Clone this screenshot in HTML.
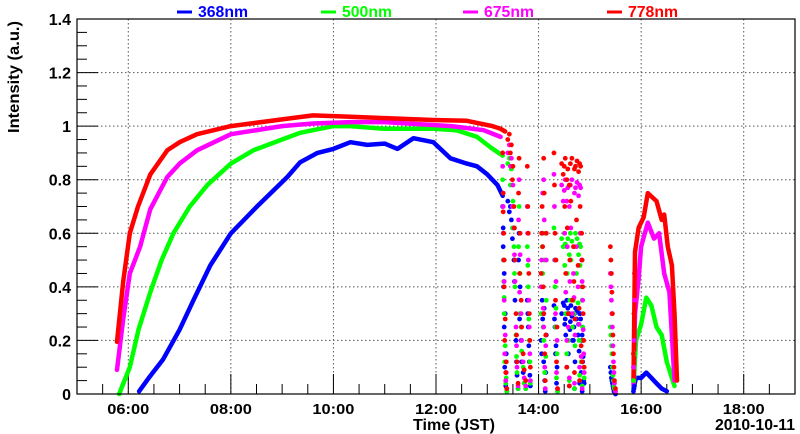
<!DOCTYPE html>
<html><head><meta charset="utf-8"><style>
body{margin:0;background:#fff}
svg{display:block;font-family:"Liberation Sans",sans-serif;font-weight:bold}
</style></head><body>
<svg id="c" width="800" height="434" viewBox="0 0 800 434"></svg>
<script>
// Smooth series (null = gap)
const blueT=[6.21,6.4,6.68,7.0,7.27,7.6,8.0,8.51,9.1,9.35,9.69,10.0,10.33,10.66,11.0,11.25,11.56,11.95,12.28,12.6,12.8,13.0,13.2,13.3,null,15.85,15.9,16.0,16.1,16.2,16.3,16.4,16.5];
const blueV=[0.01,0.06,0.13,0.24,0.35,0.48,0.60,0.70,0.81,0.865,0.90,0.915,0.94,0.93,0.935,0.915,0.955,0.94,0.88,0.86,0.85,0.82,0.78,0.74,null,0.02,0.06,0.06,0.08,0.06,0.04,0.02,0.01];
const greenT=[5.82,6.03,6.2,6.43,6.65,6.88,7.2,7.54,8.0,8.44,9.0,9.35,9.6,10.0,10.33,11.0,11.95,12.4,12.8,13.07,13.3,null,15.85,15.9,16.0,16.1,16.2,16.3,16.4,16.5,16.6,16.65];
const greenV=[0.0,0.10,0.24,0.38,0.50,0.60,0.70,0.78,0.86,0.91,0.95,0.975,0.985,1.0,1.0,0.99,0.99,0.985,0.96,0.92,0.89,null,0.02,0.2,0.26,0.36,0.33,0.25,0.22,0.12,0.06,0.03];
const magT=[5.78,5.9,6.03,6.23,6.43,6.76,7.0,7.34,8.0,9.0,9.6,10.33,11.0,12.3,12.93,13.26,null,15.85,15.88,15.95,16.0,16.13,16.25,16.35,16.45,16.55,16.6,16.65];
const magV=[0.09,0.28,0.45,0.55,0.69,0.81,0.86,0.91,0.97,1.0,1.01,1.015,1.015,1.0,0.985,0.96,null,0.03,0.3,0.43,0.55,0.64,0.58,0.6,0.45,0.38,0.22,0.05];
const redT=[5.78,5.9,6.03,6.19,6.43,6.76,7.0,7.34,8.0,9.0,9.6,10.33,11.0,11.95,12.6,13.1,13.26,13.35,null,15.85,15.88,15.95,16.05,16.13,16.3,16.4,16.45,16.52,16.6,16.65,16.7];
const redV=[0.195,0.42,0.60,0.70,0.82,0.91,0.94,0.97,1.0,1.025,1.04,1.035,1.03,1.023,1.02,1.0,0.99,0.98,null,0.05,0.53,0.62,0.66,0.75,0.72,0.65,0.67,0.55,0.48,0.3,0.05];
// Scattered points
const scT=[13.3,13.31,13.32,13.33,13.34,13.36,13.38,13.4,13.43,13.47,13.5,13.52,13.54,13.56,13.58,13.6,13.62,13.64,13.66,13.7,13.75,13.78,13.8,13.82,13.84,
14.05,14.07,14.08,14.1,14.1,14.12,14.13,14.15,14.3,14.32,14.33,14.35,14.37,14.45,14.5,14.52,14.55,14.57,14.6,14.62,14.65,14.68,14.7,14.72,14.75,14.78,14.8,14.82,14.84,14.86,14.88,14.55,14.6,14.7,14.8,14.85,
15.4,15.41,15.42,15.43,15.44,15.45,15.46,15.47,15.48,15.5,
13.31,13.33,13.35,13.37,13.45,13.49,13.53,13.57,13.61,13.63,13.67,13.72,13.79,13.81,13.83,
14.06,14.09,14.11,14.14,14.31,14.34,14.36,14.48,14.51,14.53,14.56,14.58,14.61,14.63,14.66,14.69,14.71,14.74,14.77,14.79,14.81,14.83,14.85,14.87,14.89,
15.85,15.86,15.87];
const redSV=[.9,.75,.6,.4,.2,.08,.02,.95,.97,.93,.85,.7,.5,.3,.12,.04,.88,.6,.35,.15,.05,.85,.6,.3,.1,
.45,.7,.55,.88,.3,.15,.05,.6,.9,.6,.35,.12,.02,.86,.85,.88,.8,.84,.78,.86,.88,.55,.84,.85,.87,.83,.86,.85,.6,.4,.2,.1,.03,.08,.05,.12,
.55,.5,.45,.38,.3,.22,.15,.1,.05,.02,
.68,.5,.28,.12,.9,.8,.62,.22,.75,.45,.25,.09,.7,.45,.2,
.6,.4,.75,.22,.78,.5,.25,.82,.7,.45,.62,.3,.5,.72,.35,.42,.28,.65,.48,.32,.7,.18,.5,.3,.1,
.15,.3,.45];
const magSV=[.85,.7,.5,.35,.15,.05,.02,.9,.93,.88,.78,.62,.42,.25,.1,.03,.8,.52,.3,.12,.03,.7,.5,.25,.05,
.4,.6,.75,.8,.25,.1,.02,.5,.82,.5,.3,.08,.02,.78,.76,.8,.72,.77,.7,.78,.8,.45,.75,.77,.79,.74,.78,.77,.5,.35,.15,.2,.06,.04,.1,.02,
.45,.4,.35,.3,.25,.18,.12,.08,.04,.01,
.6,.42,.22,.08,.85,.7,.52,.18,.65,.38,.2,.06,.6,.35,.15,
.5,.32,.65,.18,.7,.42,.2,.72,.6,.38,.55,.25,.42,.62,.3,.36,.22,.55,.4,.26,.6,.14,.42,.24,.08,
.1,.2,.35];
const greenSV=[.8,.6,.42,.3,.12,.04,.01,.86,.88,.84,.72,.55,.4,.22,.08,.02,.7,.45,.25,.1,.02,.55,.4,.2,.04,
.3,.55,.45,.6,.2,.08,.02,.35,.62,.4,.25,.06,.01,.58,.6,.56,.55,.58,.52,.6,.57,.35,.55,.6,.58,.52,.56,.55,.4,.25,.1,.15,.05,.02,.07,.03,
.25,.22,.18,.15,.1,.07,.05,.03,.02,.01,
.5,.36,.18,.06,.78,.62,.45,.14,.55,.3,.16,.04,.48,.28,.12,
.4,.25,.5,.14,.5,.32,.15,.55,.48,.3,.45,.2,.35,.5,.25,.3,.18,.45,.34,.2,.48,.12,.35,.2,.06,
.05,.1,.15];
const blueSV=[.7,.55,.4,.25,.1,.03,.01,.72,.68,.65,.62,.5,.35,.2,.07,.02,.6,.4,.2,.08,.02,.35,.25,.12,.03,
.2,.35,.28,.3,.12,.05,.01,.22,.33,.25,.15,.04,.01,.3,.33,.28,.35,.32,.3,.27,.29,.2,.3,.32,.31,.26,.3,.28,.2,.12,.05,.1,.03,.02,.04,.01,
.1,.08,.06,.05,.04,.03,.02,.01,.01,0,
.62,.45,.3,.15,.7,.58,.42,.12,.5,.28,.12,.04,.3,.18,.07,
.15,.25,.32,.08,.28,.18,.1,.34,.26,.22,.3,.15,.24,.33,.2,.25,.12,.28,.22,.16,.3,.08,.22,.14,.04,
.01,.02,.03];
const yTicks=[0,0.2,0.4,0.6,0.8,1,1.2,1.4];
const yTickLabels=["0","0.2","0.4","0.6","0.8","1","1.2","1.4"];
const xTicks=[6,8,10,12,14,16,18];
const xTickLabels=["06:00","08:00","10:00","12:00","14:00","16:00","18:00"];
const legendLabels=["368nm","500nm","675nm","778nm"];
const legendColors=["#0000ff","#00ff00","#ff00ff","#ff0000"];

const L=77,R=795,T=19,B=394,X0=5,X1=19,Y1=1.4;
const sx=h=>L+(h-X0)/(X1-X0)*(R-L);
const sy=v=>B-v/Y1*(B-T);
const svg=document.getElementById('c');
const NS='http://www.w3.org/2000/svg';
function mk(tag,attrs,parent){const e=document.createElementNS(NS,tag);for(const k in attrs)e.setAttribute(k,attrs[k]);(parent||svg).appendChild(e);return e;}

const grid=mk('g',{stroke:'#555','stroke-width':1,'stroke-dasharray':'1.5,2.5'});


yTicks.forEach(v=>{if(v>0&&v<Y1)mk('line',{x1:L,x2:R,y1:sy(v),y2:sy(v)},grid);});
xTicks.forEach(h=>mk('line',{x1:sx(h),x2:sx(h),y1:T,y2:B},grid));

const ax=mk('g',{stroke:'#000','stroke-width':1});


for(let v=0;v<=Y1+1e-9;v+=0.05){const maj=Math.abs(v/0.2-Math.round(v/0.2))<1e-6;mk('line',{x1:L,x2:L+(maj?21:10),y1:sy(v),y2:sy(v)},ax);}
for(let h=5;h<=X1+1e-9;h+=0.5){const maj=Math.abs(h/2-Math.round(h/2))<1e-6;mk('line',{x1:sx(h),x2:sx(h),y1:B,y2:B-(maj?20:10)},ax);}

yTicks.forEach((v,i)=>{const t=mk('text',{x:71,y:sy(v)+6,'text-anchor':'end','font-size':16,fill:'#000'});t.textContent=yTickLabels[i];

});
xTicks.forEach((h,i)=>{const t=mk('text',{x:sx(h),y:414,'text-anchor':'middle','font-size':15,fill:'#000',textLength:42,lengthAdjust:'spacingAndGlyphs'});t.textContent=xTickLabels[i];

});

function drawLine(T_,V_,col,name){let d='',start=true;for(let i=0;i<T_.length;i++){if(T_[i]===null){start=true;continue;}d+=(start?'M':'L')+sx(T_[i]).toFixed(1)+','+sy(V_[i]).toFixed(1);start=false;}
const p=mk('path',{d:d,fill:'none',stroke:col,'stroke-width':4.5,'stroke-linejoin':'round','stroke-linecap':'round'});

}
function drawDots(V_,col,name){const g=mk('g',{fill:col});


scT.forEach((t,i)=>mk('circle',{cx:sx(t),cy:sy(V_[i]),r:2.4},g));}
drawLine(blueT,blueV,'#0000ff','series-368nm');
drawLine(greenT,greenV,'#00ff00','series-500nm');
drawLine(magT,magV,'#ff00ff','series-675nm');
drawLine(redT,redV,'#ff0000','series-778nm');
drawDots(blueSV,'#0000ff','scatter-368nm');
drawDots(greenSV,'#00ff00','scatter-500nm');
drawDots(magSV,'#ff00ff','scatter-675nm');
drawDots(redSV,'#ff0000','scatter-778nm');

const fr=mk('rect',{x:L,y:T,width:R-L,height:B-T,fill:'none',stroke:'#000','stroke-width':1.2});



const lx=[177,321,463,607];
legendLabels.forEach((s,i)=>{const g=mk('g',{});


mk('line',{x1:lx[i],x2:lx[i]+15,y1:12,y2:12,stroke:legendColors[i],'stroke-width':3},g);
const t=mk('text',{x:lx[i]+21,y:17,'font-size':16,fill:legendColors[i],textLength:50,lengthAdjust:'spacingAndGlyphs'},g);t.textContent=s;});

const xt=mk('text',{x:413,y:430,'font-size':16,fill:'#000',textLength:82,lengthAdjust:'spacingAndGlyphs'});xt.textContent='Time (JST)';


const dt=mk('text',{x:795,y:430,'text-anchor':'end','font-size':16,fill:'#000',textLength:80,lengthAdjust:'spacingAndGlyphs'});dt.textContent='2010-10-11';


const yt=mk('text',{x:0,y:0,'font-size':16,fill:'#000','text-anchor':'middle',transform:'translate(19,77) rotate(-90)',textLength:112,lengthAdjust:'spacingAndGlyphs'});yt.textContent='Intensity (a.u.)';


</script>
</body></html>
